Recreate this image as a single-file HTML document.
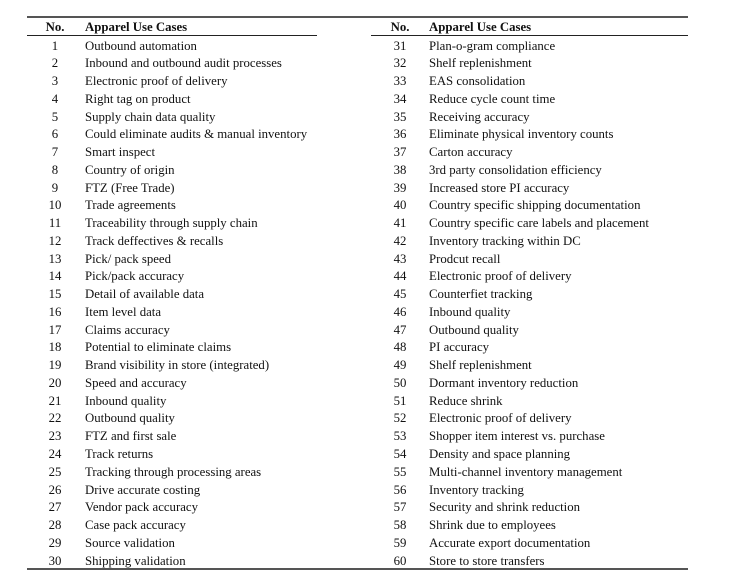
<!DOCTYPE html>
<html><head><style>
body{margin:0;width:750px;height:586px;background:#fff;position:relative;font-family:"Liberation Serif",serif;font-size:12.8px;color:#111;overflow:hidden}
.l{position:absolute;background:#555}
.r{position:absolute;white-space:nowrap;line-height:14px}
.n{text-align:center;width:40px}
.h{font-weight:bold}
</style></head><body>
<div class="l" style="left:27px;top:16px;width:661px;height:2px"></div>
<div class="l" style="left:27px;top:35px;width:290px;height:1px;background:#222"></div>
<div class="l" style="left:371px;top:35px;width:317px;height:1px;background:#222"></div>
<div class="l" style="left:27px;top:568px;width:661px;height:2px"></div>
<div id="c"></div>
<script>
var L=["Outbound automation","Inbound and outbound audit processes","Electronic proof of delivery","Right tag on product","Supply chain data quality","Could eliminate audits &amp; manual inventory","Smart inspect","Country of origin","FTZ (Free Trade)","Trade agreements","Traceability through supply chain","Track deffectives &amp; recalls","Pick/ pack speed","Pick/pack accuracy","Detail of available data","Item level data","Claims accuracy","Potential to eliminate claims","Brand visibility in store (integrated)","Speed and accuracy","Inbound quality","Outbound quality","FTZ and first sale","Track returns","Tracking through processing areas","Drive accurate costing","Vendor pack accuracy","Case pack accuracy","Source validation","Shipping validation"];
var R=["Plan-o-gram compliance","Shelf replenishment","EAS consolidation","Reduce cycle count time","Receiving accuracy","Eliminate physical inventory counts","Carton accuracy","3rd party consolidation efficiency","Increased store PI accuracy","Country specific shipping documentation","Country specific care labels and placement","Inventory tracking within DC","Prodcut recall","Electronic proof of delivery","Counterfiet tracking","Inbound quality","Outbound quality","PI accuracy","Shelf replenishment","Dormant inventory reduction","Reduce shrink","Electronic proof of delivery","Shopper item interest vs. purchase","Density and space planning","Multi-channel inventory management","Inventory tracking","Security and shrink reduction","Shrink due to employees","Accurate export documentation","Store to store transfers"];
var h='';
function row(y,nx,tx,n,t,c){h+='<div class="r n '+c+'" style="left:'+(nx-20)+'px;top:'+y+'px">'+n+'</div><div class="r '+c+'" style="left:'+tx+'px;top:'+y+'px">'+t+'</div>';}
row(20,55,85,'No.','Apparel Use Cases','h');
row(20,400,429,'No.','Apparel Use Cases','h');
for(var i=0;i<30;i++){var y=38.5+i*17.76;row(y,55,85,i+1,L[i],'');row(y,400,429,i+31,R[i],'');}
document.getElementById('c').innerHTML=h;
</script>
</body></html>
